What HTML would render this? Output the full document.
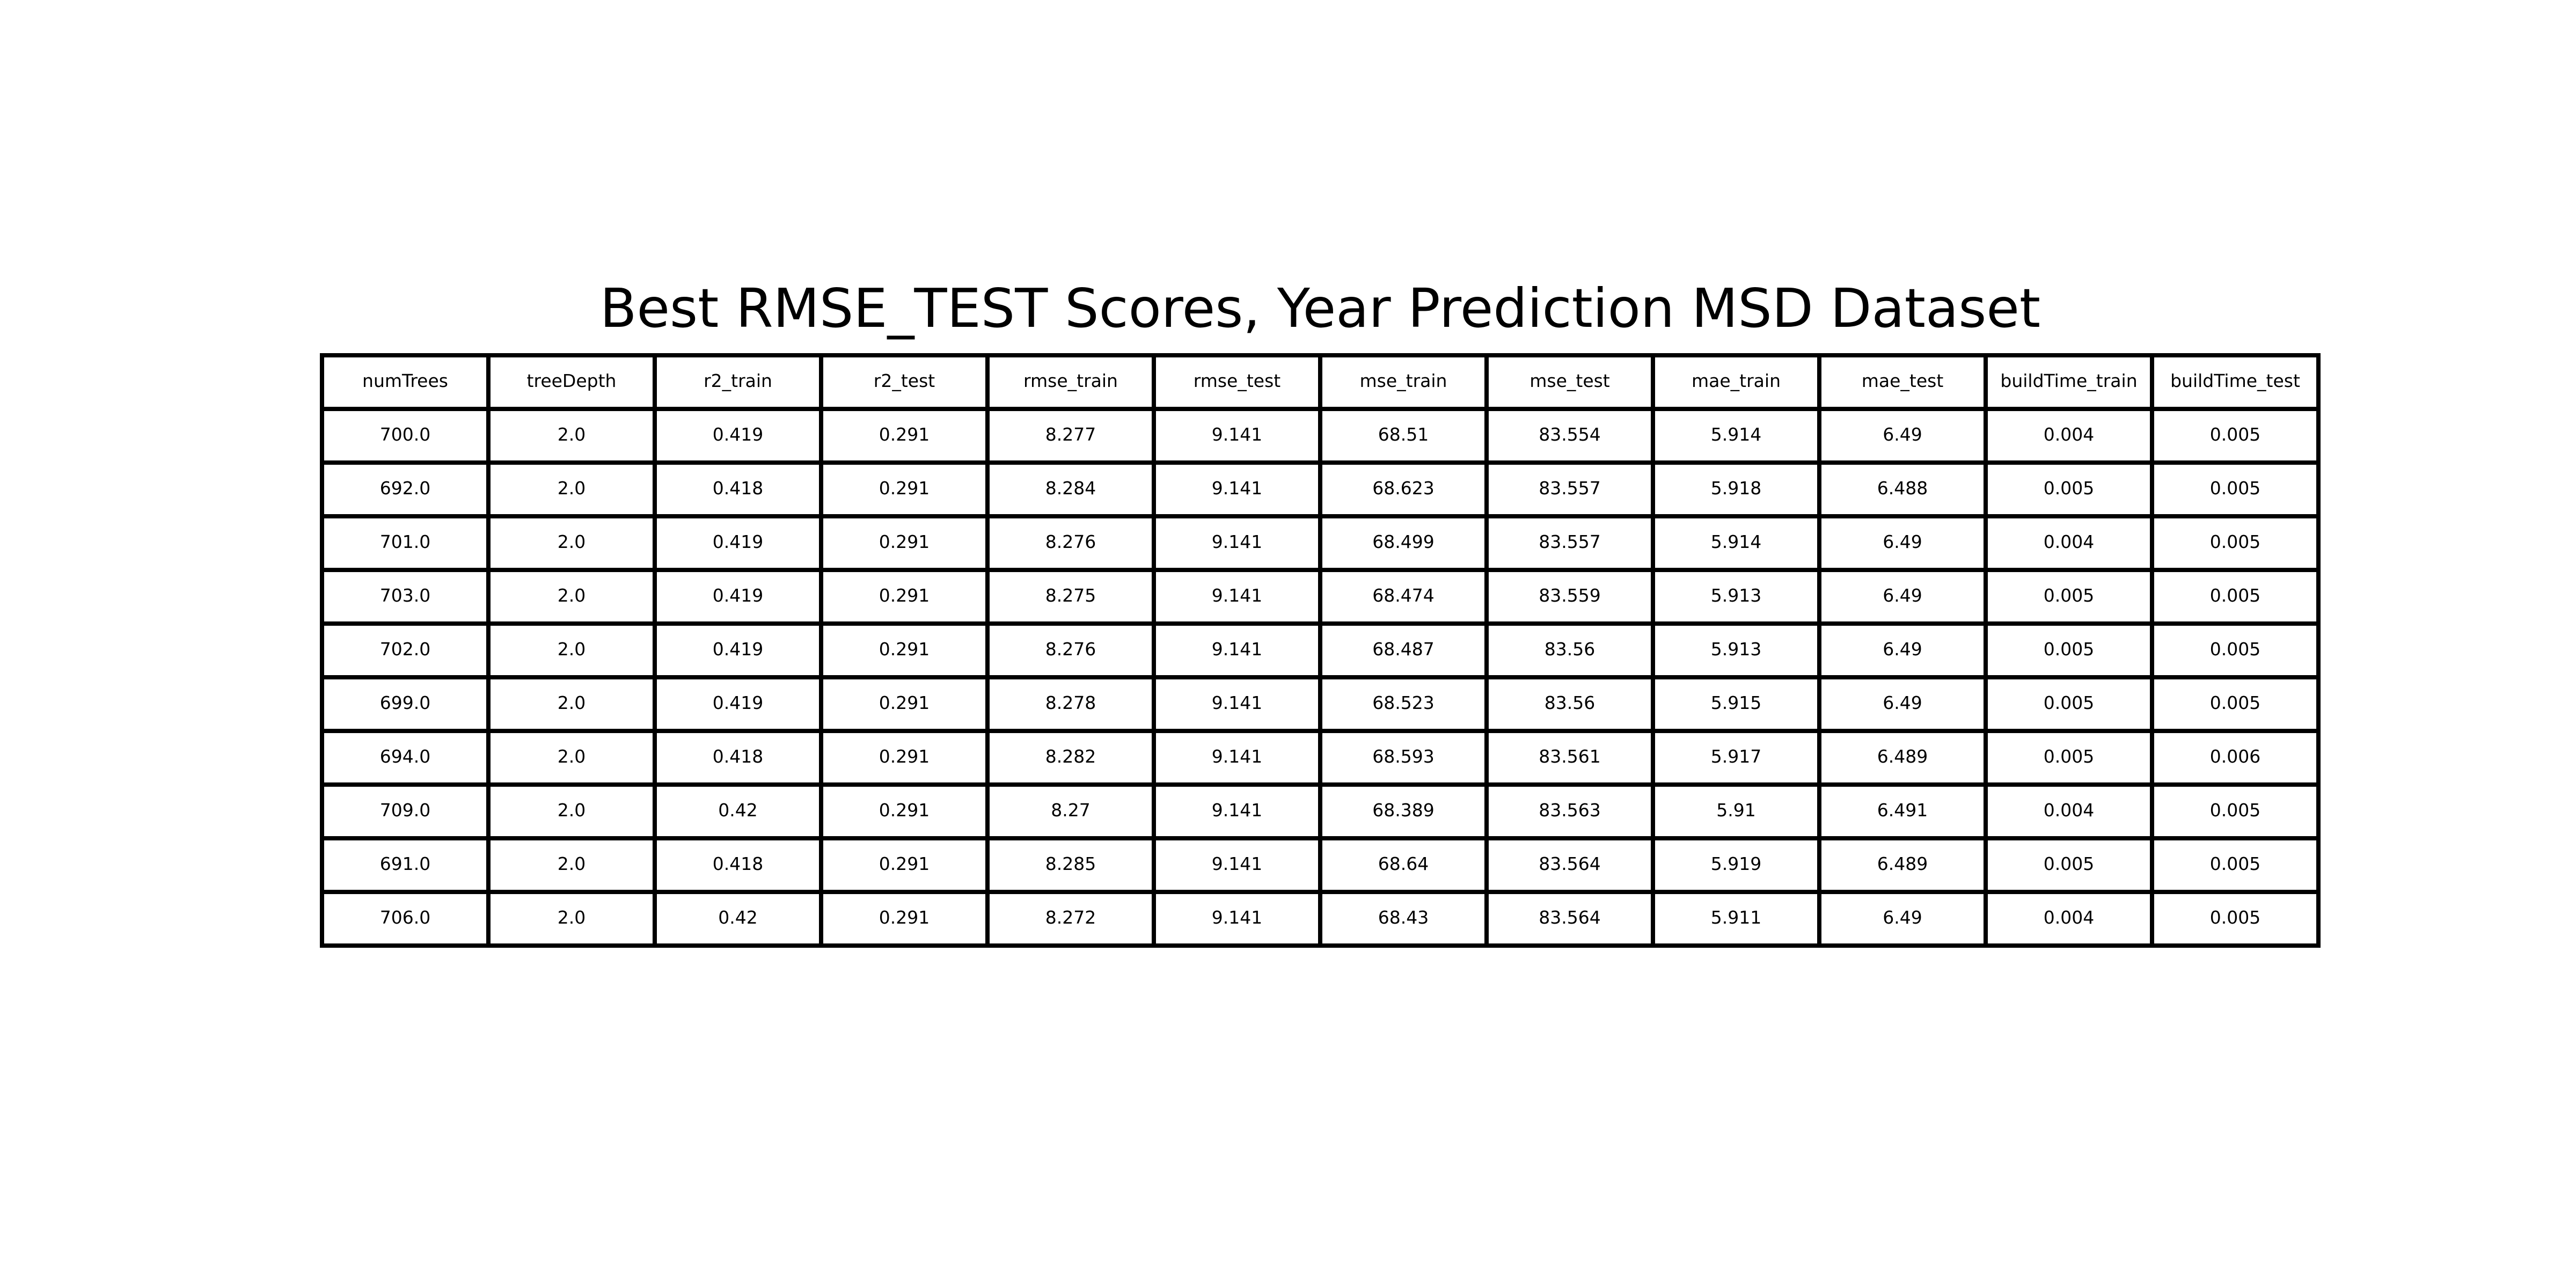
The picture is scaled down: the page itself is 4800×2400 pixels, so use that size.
<!DOCTYPE html>
<html><head><meta charset="utf-8"><style>
html,body{margin:0;padding:0;background:#fff;}
svg{display:block;}
text{font-family:"DejaVu Sans","Liberation Sans",sans-serif;fill:#000;}
</style></head><body>
<svg id="chart" width="4800" height="2400" viewBox="0 0 4800 2400" xmlns="http://www.w3.org/2000/svg">
<rect width="4800" height="2400" fill="#fff"/>
<text x="2460" y="609" font-size="100" text-anchor="middle">Best RMSE_TEST Scores, Year Prediction MSD Dataset</text>
<g id="tbl"></g>
</svg>
<script>
const columns = ["numTrees","treeDepth","r2_train","r2_test","rmse_train","rmse_test","mse_train","mse_test","mae_train","mae_test","buildTime_train","buildTime_test"];
const numTrees = ["700.0","692.0","701.0","703.0","702.0","699.0","694.0","709.0","691.0","706.0"];
const treeDepth = ["2.0","2.0","2.0","2.0","2.0","2.0","2.0","2.0","2.0","2.0"];
const r2Train = ["0.419","0.418","0.419","0.419","0.419","0.419","0.418","0.42","0.418","0.42"];
const r2Test = ["0.291","0.291","0.291","0.291","0.291","0.291","0.291","0.291","0.291","0.291"];
const rmseTrain = ["8.277","8.284","8.276","8.275","8.276","8.278","8.282","8.27","8.285","8.272"];
const rmseTest = ["9.141","9.141","9.141","9.141","9.141","9.141","9.141","9.141","9.141","9.141"];
const mseTrain = ["68.51","68.623","68.499","68.474","68.487","68.523","68.593","68.389","68.64","68.43"];
const mseTest = ["83.554","83.557","83.557","83.559","83.56","83.56","83.561","83.563","83.564","83.564"];
const maeTrain = ["5.914","5.918","5.914","5.913","5.913","5.915","5.917","5.91","5.919","5.911"];
const maeTest = ["6.49","6.488","6.49","6.49","6.49","6.49","6.489","6.491","6.489","6.49"];
const buildTrain = ["0.004","0.005","0.004","0.005","0.005","0.005","0.005","0.004","0.005","0.004"];
const buildTest = ["0.005","0.005","0.005","0.005","0.005","0.005","0.006","0.005","0.005","0.005"];

const NS = "http://www.w3.org/2000/svg";
const g = document.getElementById('tbl');
const series = [numTrees,treeDepth,r2Train,r2Test,rmseTrain,rmseTest,mseTrain,mseTest,maeTrain,maeTest,buildTrain,buildTest];
const X0 = 600, X1 = 4320, Y0 = 662, Y1 = 1762;
const nCols = columns.length, nRows = numTrees.length + 1;
const cw = (X1 - X0) / nCols, rh = (Y1 - Y0) / nRows;
function cell(r, c, txt) {
  const rect = document.createElementNS(NS, 'rect');
  rect.setAttribute('x', X0 + c * cw);
  rect.setAttribute('y', Y0 + r * rh);
  rect.setAttribute('width', cw);
  rect.setAttribute('height', rh);
  rect.setAttribute('fill', '#fff');
  rect.setAttribute('stroke', '#000');
  rect.setAttribute('stroke-width', '8');
  
  
  g.appendChild(rect);
  const t = document.createElementNS(NS, 'text');
  t.setAttribute('x', X0 + (c + 0.5) * cw);
  t.setAttribute('y', Y0 + (r + 0.5) * rh + 9);
  t.setAttribute('font-size', '33');
  t.setAttribute('text-anchor', 'middle');
  
  
  t.textContent = txt;
  g.appendChild(t);
}
for (let c = 0; c < nCols; c++) cell(0, c, columns[c]);
for (let r = 1; r < nRows; r++) for (let c = 0; c < nCols; c++) cell(r, c, series[c][r - 1]);
</script>
</body></html>
